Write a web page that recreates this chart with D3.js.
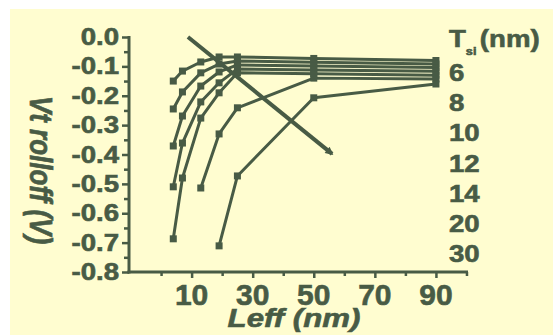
<!DOCTYPE html>
<html>
<head>
<meta charset="utf-8">
<script src="https://cdn.jsdelivr.net/npm/d3@7"></script>
<style>
  html, body { margin: 0; padding: 0; background: #ffffff; }
  svg { display: block; }
  text { font-family: "Liberation Sans", Arial, sans-serif; font-weight: bold; }
</style>
</head>
<body>
<svg id="chart" width="553" height="335"></svg>
<script>
// Effective channel length (nm)
const leff = [4, 7, 13, 19, 25, 50, 90];

// Silicon thickness of each curve (nm)
const tsi = [6, 8, 10, 12, 14, 20, 30];

// Threshold voltage roll-off (V) per curve; null where the device was not simulated
const vt6  = [-0.150, -0.116, -0.085, -0.068, -0.068, -0.073, -0.080];
const vt8  = [-0.245, -0.187, -0.122, -0.092, -0.082, -0.086, -0.092];
const vt10 = [-0.371, -0.269, -0.167, -0.119, -0.095, -0.099, -0.104];
const vt12 = [-0.510, -0.361, -0.221, -0.156, -0.109, -0.112, -0.117];
const vt14 = [-0.687, -0.480, -0.276, -0.190, -0.122, -0.125, -0.130];
const vt20 = [null, null, -0.514, -0.330, -0.241, -0.140, -0.143];
const vt30 = [null, null, null, -0.711, -0.473, -0.207, -0.160];

// Tick labels
const xTickLabels = [10, 30, 50, 70, 90];
const yTickValues = [0, -0.1, -0.2, -0.3, -0.4, -0.5, -0.6, -0.7, -0.8];

// Arrow showing the direction of increasing Tsi, in data units [Leff, Vt]
const arrowFrom = [8.8, 0.0];
const arrowTo = [56, -0.398];

const ink = "#485b45";
const paper = "#fffdd0";

const svg = d3.select("#chart");

// Paper background (white margin on top and left)
svg.append("rect").attr("x", 10).attr("y", 9).attr("width", 543).attr("height", 326).attr("fill", paper);

const x = d3.scaleLinear().domain([-10.5, 100.5]).range([129, 468]);
const y = d3.scaleLinear().domain([-0.8, 0]).range([272, 37]);

// Helper: heavy text stretched horizontally
function label(g, px, py, str, opts) {
  const o = Object.assign({ size: 23, sx: 1.2, anchor: "start", italic: false, rotate: 0, weight: 0.6 }, opts);
  return g.append("text")
    .attr("transform", `translate(${px},${py}) scale(${o.sx},1) rotate(${o.rotate})`)
    .attr("text-anchor", o.anchor)
    .attr("font-size", o.size)
    .attr("font-style", o.italic ? "italic" : "normal")
    .attr("fill", ink)
    .attr("stroke", ink)
    .attr("stroke-width", o.weight)
    .text(str);
}

// ---- Axes ----
const axes = svg.append("g");

// Y axis: major ticks every 0.1 V, minor every 0.05 V
const yAxis = d3.axisLeft(y).tickValues(yTickValues).tickSize(7).tickFormat("");
const yMinor = d3.axisLeft(y).tickValues(d3.range(-0.75, 0, 0.1)).tickSize(5).tickFormat("");
axes.append("g").attr("transform", `translate(${x.range()[0]},0)`).call(yMinor);
axes.append("g").attr("transform", `translate(${x.range()[0]},0)`).call(yAxis);

// X axis: major ticks at labelled values, minor in between
const xAxis = d3.axisBottom(x).tickValues(xTickLabels).tickSize(6).tickFormat("");
const xMinor = d3.axisBottom(x).tickValues([0, 20, 40, 60, 80, 100]).tickSize(4).tickFormat("");
axes.append("g").attr("transform", `translate(0,${y.range()[0]})`).call(xMinor);
axes.append("g").attr("transform", `translate(0,${y.range()[0]})`).call(xAxis);

axes.selectAll(".domain").remove();
axes.selectAll(".tick line").attr("stroke", ink).attr("stroke-width", 2.5);

// Axis lines
axes.append("line").attr("x1", x.range()[0]).attr("x2", x.range()[0])
  .attr("y1", y(0) - 1).attr("y2", y(-0.8) + 1.5).attr("stroke", ink).attr("stroke-width", 3);
axes.append("line").attr("x1", x.range()[0] - 1.5).attr("x2", x.range()[1])
  .attr("y1", y(-0.8)).attr("y2", y(-0.8)).attr("stroke", ink).attr("stroke-width", 3);

// Tick labels
yTickValues.forEach(v => {
  label(axes, 119, y(v) + 8, v.toFixed(1).replace("-0.0", "0.0"), { size: 23, sx: 1.2, anchor: "end" });
});
xTickLabels.forEach(v => {
  label(axes, x(v), 305, String(v), { size: 30, sx: 1.0, anchor: "middle" });
});

// Axis titles
label(svg, 294, 327, "Leff (nm)", { size: 26, sx: 1.2, anchor: "middle", italic: true });
label(svg, 30, 170, "Vt rolloff (V)", { size: 26, sx: 1.2, anchor: "middle", italic: true, rotate: 90 });

// ---- Data ----
const seriesValues = [vt6, vt8, vt10, vt12, vt14, vt20, vt30];
const series = tsi.map((t, i) => ({
  tsi: t,
  points: leff.map((l, j) => ({ l, v: seriesValues[i][j] })).filter(p => p.v !== null)
}));

const line = d3.line().x(p => x(p.l)).y(p => y(p.v));

const plot = svg.append("g");
plot.selectAll("path.curve").data(series).join("path")
  .attr("class", "curve")
  .attr("d", s => line(s.points))
  .attr("fill", "none")
  .attr("stroke", ink)
  .attr("stroke-width", 3)
  .attr("stroke-linejoin", "round");

const m = 7;
plot.selectAll("g.marks").data(series).join("g")
  .attr("class", "marks")
  .selectAll("rect").data(s => s.points).join("rect")
  .attr("x", p => x(p.l) - m / 2)
  .attr("y", p => y(p.v) - m / 2)
  .attr("width", m).attr("height", m)
  .attr("fill", ink);

// ---- Arrow ----
const defs = svg.append("defs");
defs.append("marker")
  .attr("id", "head").attr("viewBox", "0 0 10 10")
  .attr("refX", 8).attr("refY", 5)
  .attr("markerWidth", 3).attr("markerHeight", 2)
  .attr("orient", "auto")
  .append("path").attr("d", "M0,0 L10,5 L0,10 Z").attr("fill", ink);

svg.append("line")
  .attr("x1", x(arrowFrom[0])).attr("y1", y(arrowFrom[1]))
  .attr("x2", x(arrowTo[0])).attr("y2", y(arrowTo[1]))
  .attr("stroke", ink).attr("stroke-width", 4)
  .attr("marker-end", "url(#head)");

// ---- Legend (Tsi values listed to the right) ----
const legend = svg.append("g");
const title = legend.append("text")
  .attr("transform", "translate(449,47) scale(1.15,1)")
  .attr("font-size", 24).attr("fill", ink)
  .attr("stroke", ink).attr("stroke-width", 0.6);
title.append("tspan").text("T");
title.append("tspan").attr("font-size", 11).attr("dy", 8).text("si");
title.append("tspan").attr("dy", -8).attr("dx", 3).text("(nm)");

tsi.forEach((t, i) => {
  label(legend, 449, 81 + i * 30.2, String(t), { size: 24, sx: 1.15, anchor: "start" });
});
</script>
</body>
</html>
